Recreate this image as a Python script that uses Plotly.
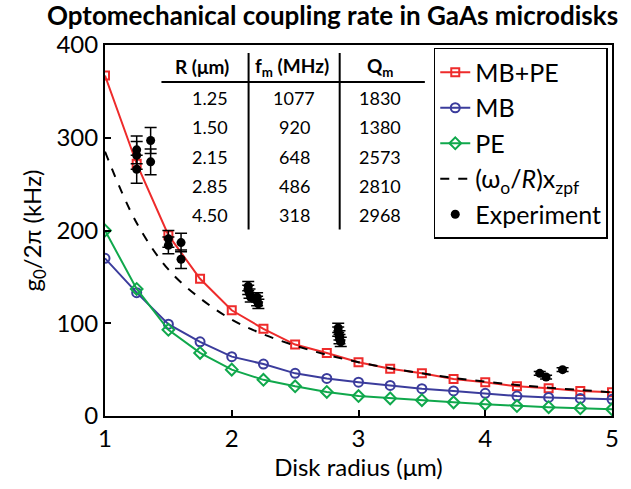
import plotly.graph_objects as go

# ---- data ----
radius = [1.0, 1.25, 1.5, 1.75, 2.0, 2.25, 2.5, 2.75, 3.0, 3.25, 3.5, 3.75, 4.0, 4.25, 4.5, 4.75, 5.0]
g_mbpe = [367, 272, 195, 148, 114, 94, 77, 68, 58, 51, 46, 40, 36.5, 32, 30, 27, 25.5]
g_mb = [170, 133, 99, 80, 64, 56, 46, 40.5, 36.5, 33, 29.5, 27, 24.5, 21.5, 20, 19, 18]
g_pe = [200, 137, 93, 68, 50, 39, 32, 26, 21.5, 19, 17, 14.7, 12.7, 10.7, 9.5, 8.3, 7.2]
g_geom = [285, 208, 158, 127, 104, 88, 76, 66, 58, 51.5, 46, 41, 37, 33.5, 30.5, 28, 25.5]

exp_r = [1.25, 1.25, 1.25, 1.36, 1.36, 1.5, 1.5, 1.6, 1.6,
         2.13, 2.13, 2.14, 2.15, 2.2, 2.2, 2.21,
         2.84, 2.84, 2.85, 2.85, 2.86, 4.43, 4.48, 4.61]
exp_g = [287, 281, 266, 297, 274, 191, 184, 187, 169,
         140, 136, 132, 128, 128, 124, 121,
         95, 91, 87, 83, 80, 46, 42, 50]
exp_err = [15, 15, 15, 14, 14, 9, 9, 10, 10,
           5, 5, 5, 5, 5, 5, 5,
           5, 5, 5, 5, 5, 2, 2, 2]

tbl_header = ["<b>R (μm)</b>", "<b>f<sub>m</sub> (MHz)</b>", "<b>Q<sub>m</sub></b>"]
tbl_R = ["1.25", "1.50", "2.15", "2.85", "4.50"]
tbl_f = ["1077", "920", "648", "486", "318"]
tbl_Q = ["1830", "1380", "2573", "2810", "2968"]

# ---- style ----
RED = "#EE2B2B"
BLUE = "#3B3C9C"
GREEN = "#10A84C"
FONT = "Lato"

W, H = 631, 489
L, R_, T, B = 105, 14, 45, 72
PW, PH = W - L - R_, H - T - B


def px(xp):
    return (xp - L) / PW


def py(yp):
    return (H - B - yp) / PH


fig = go.Figure()

fig.add_trace(go.Scatter(x=radius, y=g_mbpe, mode="lines+markers", name="MB+PE",
                         line=dict(color=RED, width=2),
                         marker=dict(symbol="square-open", size=8, color=RED, line=dict(width=2))))
fig.add_trace(go.Scatter(x=radius, y=g_mb, mode="lines+markers", name="MB",
                         line=dict(color=BLUE, width=2),
                         marker=dict(symbol="circle-open", size=9, color=BLUE, line=dict(width=2))))
fig.add_trace(go.Scatter(x=radius, y=g_pe, mode="lines+markers", name="PE",
                         line=dict(color=GREEN, width=2),
                         marker=dict(symbol="diamond-open", size=9, color=GREEN, line=dict(width=2))))
fig.add_trace(go.Scatter(x=radius, y=g_geom, mode="lines", name="(ω<sub>o</sub>/<i>R</i>)x<sub>zpf</sub>",
                         line=dict(color="black", width=2, dash="dash", shape="spline")))
fig.add_trace(go.Scatter(x=exp_r, y=exp_g, mode="markers", name="Experiment",
                         marker=dict(symbol="circle", size=9, color="black"),
                         error_y=dict(type="data", array=exp_err, color="black", thickness=1.5, width=6)))

# ---- table ----
ann = []
col_hx = [203, 294, 383]
col_vx = [211, 296, 383]
for cx, t in zip(col_hx, tbl_header):
    ann.append(dict(x=px(cx), y=py(67), xref="paper", yref="paper", text=t, showarrow=False,
                    font=dict(family=FONT, size=19, color="black"), xanchor="center", yanchor="middle"))
row_y = [98, 127, 157, 186, 215]
for i, yy in enumerate(row_y):
    for cx, col in zip(col_vx, [tbl_R, tbl_f, tbl_Q]):
        ann.append(dict(x=px(cx), y=py(yy), xref="paper", yref="paper", text=col[i], showarrow=False,
                        font=dict(family=FONT, size=18, color="black"), xanchor="center", yanchor="middle"))

shapes = [
    dict(type="line", xref="paper", yref="paper", x0=px(162), x1=px(428), y0=py(82), y1=py(82),
         line=dict(color="black", width=2)),
    dict(type="line", xref="paper", yref="paper", x0=px(250), x1=px(250), y0=py(53), y1=py(230),
         line=dict(color="black", width=2)),
    dict(type="line", xref="paper", yref="paper", x0=px(342), x1=px(342), y0=py(53), y1=py(230),
         line=dict(color="black", width=2)),
]

fig.update_layout(
    width=W, height=H,
    margin=dict(l=L, r=R_, t=T, b=B),
    paper_bgcolor="white", plot_bgcolor="white",
    font=dict(family=FONT, size=24, color="black"),
    title=dict(text="<b>Optomechanical coupling rate in GaAs microdisks</b>",
               x=0.527, xanchor="center", y=0.968, yanchor="middle",
               font=dict(family=FONT, size=26, color="black")),
    xaxis=dict(range=[1, 5], tickvals=[1, 2, 3, 4, 5], ticks="inside", ticklen=6, tickwidth=2,
               tickcolor="black", showline=True, linecolor="black", linewidth=2, mirror=True,
               showgrid=False, zeroline=False,
               title=dict(text="Disk radius (μm)", standoff=8, font=dict(size=24))),
    yaxis=dict(range=[0, 400], tickvals=[0, 100, 200, 300, 400], ticks="inside", ticklen=6, tickwidth=2,
               tickcolor="black", showline=True, linecolor="black", linewidth=2, mirror=True,
               showgrid=False, zeroline=False,
               title=dict(text="g<sub>0</sub>/2π (kHz)", standoff=8, font=dict(size=24))),
    legend=dict(x=px(437), y=py(48), xanchor="left", yanchor="top",
                bordercolor="black", borderwidth=1.5, bgcolor="white",
                font=dict(family=FONT, size=25, color="black"), itemwidth=30,
                tracegroupgap=0),
    annotations=ann,
    shapes=shapes,
    showlegend=True,
)

fig.write_html("out.html")
